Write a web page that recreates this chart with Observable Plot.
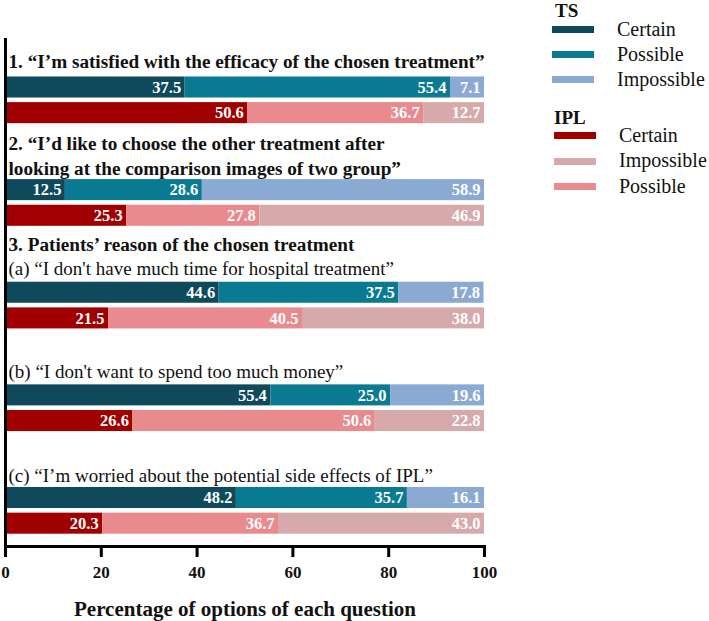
<!DOCTYPE html>
<html>
<head>
<meta charset="utf-8">
<script src="https://cdn.jsdelivr.net/npm/d3@7"></script>
<script src="https://cdn.jsdelivr.net/npm/@observablehq/plot@0.6"></script>
</head>
<body style="margin:0;background:#fff;font-family:'Liberation Serif'">
<div id="wrap" style="position:relative;width:709px;height:621px"></div>
<script>
// ---- data ----
const questions = ["Q1", "Q2", "Q3a", "Q3b", "Q3c"];
const groups = ["TS", "IPL"];
const options = ["Certain", "Possible", "Impossible"];
const tsCertain    = [37.5, 12.5, 44.6, 55.4, 48.2];
const tsPossible   = [55.4, 28.6, 37.5, 25.0, 35.7];
const tsImpossible = [7.1, 58.9, 17.8, 19.6, 16.1];
const iplCertain    = [50.6, 25.3, 21.5, 26.6, 20.3];
const iplPossible   = [36.7, 27.8, 40.5, 50.6, 36.7];
const iplImpossible = [12.7, 46.9, 38.0, 22.8, 43.0];

const slots = ["h1", "Q1 TS", "Q1 IPL", "h2a", "h2b", "Q2 TS", "Q2 IPL", "h3", "h3a", "Q3a TS", "Q3a IPL", "gap1", "h3b", "Q3b TS", "Q3b IPL", "gap2", "h3c", "Q3c TS", "Q3c IPL"];

const boldHeaders = [
  {slot: "h1", text: "1. \u201CI\u2019m satisfied with the efficacy of the chosen treatment\u201D", dy: 0},
  {slot: "h2a", text: "2. \u201CI\u2019d like to choose the other treatment after", dy: 5},
  {slot: "h2b", text: "looking at the comparison images of two group\u201D", dy: 4.5},
  {slot: "h3", text: "3. Patients\u2019 reason of the chosen treatment", dy: 3.5}
];
const plainHeaders = [
  {slot: "h3a", text: "(a) \u201CI don't have much time for hospital treatment\u201D", dy: 1.5},
  {slot: "h3b", text: "(b) \u201CI don't want to spend too much money\u201D", dy: 2},
  {slot: "h3c", text: "(c) \u201CI\u2019m worried about the potential side effects of IPL\u201D", dy: 4}
];

const legendTS = ["Certain", "Possible", "Impossible"];
const legendIPL = ["Certain", "Impossible", "Possible"];

const colorDomain = ["TS Certain", "TS Possible", "TS Impossible", "IPL Certain", "IPL Possible", "IPL Impossible"];
const colorRange = ["#0e4a5c", "#0a7a92", "#8aaad4", "#a00000", "#e98a8e", "#d6aaaa"];

const xTicks = [0, 20, 40, 60, 80, 100];

// ---- build table ----
const series = {
  TS: {Certain: tsCertain, Possible: tsPossible, Impossible: tsImpossible},
  IPL: {Certain: iplCertain, Possible: iplPossible, Impossible: iplImpossible}
};
const rows = [];
questions.forEach((q, i) => {
  groups.forEach(g => {
    options.forEach(o => {
      rows.push({slot: q + " " + g, key: g + " " + o, value: series[g][o][i]});
    });
  });
});

const font = "Liberation Serif";

const headerMarks = [
  ...boldHeaders.map(h => Plot.text([h], {y: "slot", text: "text", dy: h.dy, frameAnchor: "left", textAnchor: "start", dx: 3, fontWeight: "bold", fontSize: 19.2, fill: "#111", fontFamily: font})),
  ...plainHeaders.map(h => Plot.text([h], {y: "slot", text: "text", dy: h.dy, frameAnchor: "left", textAnchor: "start", dx: 3, fontSize: 19, fill: "#111", fontFamily: font}))
];

const chart = Plot.plot({
  width: 709,
  height: 621,
  marginLeft: 5,
  marginRight: 225,
  marginTop: 38,
  marginBottom: 75,
  style: "font-family: 'Liberation Serif'; background: #fff; overflow: visible;",
  x: {domain: [0, 100], axis: null},
  y: {type: "band", domain: slots, round: false, paddingInner: 0.18, paddingOuter: 0.09, insetTop: 10.5, insetBottom: 10, axis: null},
  color: {domain: colorDomain, range: colorRange},
  marks: [
    Plot.barX(rows, Plot.stackX({x: "value", y: "slot", fill: "key", order: null})),
    Plot.text(rows, Plot.stackX2({
      x: "value", y: "slot", z: "key", order: null,
      text: d => d.value.toFixed(1),
      textAnchor: "end", dx: -4, fill: "white", fontWeight: "bold", fontSize: 16.5, fontFamily: font
    })),
    ...headerMarks,
    Plot.ruleX([0], {stroke: "#000", strokeWidth: 3}),
    Plot.frame({anchor: "bottom", stroke: "#000", strokeWidth: 3}),
    Plot.axisX({ticks: xTicks, tickSize: 11, strokeWidth: 3, tickPadding: 8, fontSize: 17, fontWeight: "bold", label: null, tickFormat: d => String(d), fill: "#111", fontFamily: font}),
    Plot.text(["Percentage of options of each question"], {frameAnchor: "bottom", lineAnchor: "middle", dy: 63, fontSize: 21, fontWeight: "bold", fill: "#111", fontFamily: font})
  ]
});

const wrap = document.getElementById("wrap");
chart.style.position = "absolute";
chart.style.left = "0";
chart.style.top = "0";
wrap.appendChild(chart);

// ---- legend (HTML, above the svg) ----
const col = k => colorRange[colorDomain.indexOf(k)];
function add(style, text) {
  const el = document.createElement("div");
  el.setAttribute("style", "position:absolute;font-family:'Liberation Serif';line-height:1;color:#111;" + style);
  if (text) el.textContent = text;
  wrap.appendChild(el);
}
add("left:555px;top:1px;font-size:19px;font-weight:bold", "TS");
legendTS.forEach((o, i) => {
  const cy = 29.5 + i * 25;
  add(`left:552px;top:${cy - 3.5}px;width:42px;height:7px;background:${col("TS " + o)}`);
  add(`left:617px;top:${cy - 11}px;font-size:20px`, o);
});
add("left:554px;top:108px;font-size:19px;font-weight:bold", "IPL");
legendIPL.forEach((o, i) => {
  const cy = 135.5 + i * 25.5;
  add(`left:554px;top:${cy - 3.5}px;width:42px;height:7px;background:${col("IPL " + o)}`);
  add(`left:619px;top:${cy - 11}px;font-size:20px`, o);
});
</script>
</body>
</html>
